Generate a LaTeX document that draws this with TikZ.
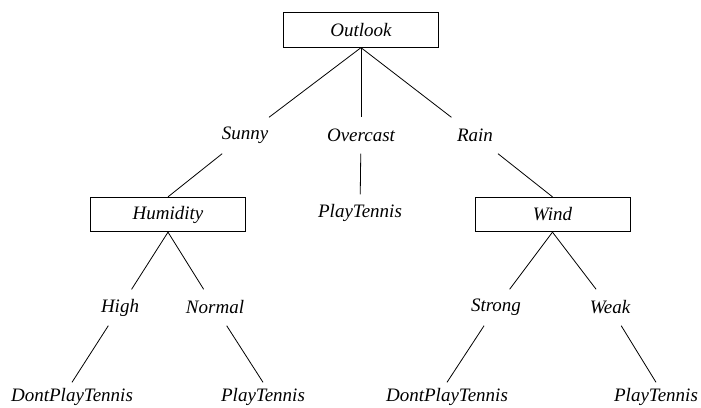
\documentclass[tikz,border=0pt]{standalone}
\usepackage{fontspec}
\setmainfont{Liberation Serif}
\tikzset{
  attrbox/.style={draw, line width=0.8pt, minimum width=155pt, minimum height=34.5pt, inner sep=0pt},
  branch/.style={minimum height=36pt, inner xsep=12pt, inner ysep=0pt},
  leaf/.style={minimum height=28pt, inner sep=0pt},
  edge/.style={line width=0.8pt}
}
\begin{document}
\begin{tikzpicture}[x=1pt, y=-1pt, font=\fontsize{19}{21}\selectfont\itshape]
    \useasboundingbox (0,0) rectangle (701,407);

    % Attribute boxes
    \node[attrbox] (outlook) at (361,30) {Outlook};
    \node[attrbox] (humidity) at (168,214.5) {Humidity};
    \node[attrbox] (wind) at (552.5,214.5) {Wind};

    % Values
    \node[branch] (sunny) at (245,135.5) {Sunny};
    \node[branch] (overcast) at (361,135.5) {Overcast};
    \node[branch] (rain) at (475,135.5) {Rain};
    \node[branch] (high) at (120,307.5) {High};
    \node[branch] (normal) at (215,307.5) {Normal};
    \node[branch] (strong) at (496,307.5) {Strong};
    \node[branch] (weak) at (610,307.5) {Weak};

    % Leaves
    \node[branch] (playA) at (360,212.5) {PlayTennis};
    \node[leaf] (dontB) at (72,396.5) {DontPlayTennis};
    \node[leaf] (playB) at (263,396.5) {PlayTennis};
    \node[leaf] (dontC) at (447,396.5) {DontPlayTennis};
    \node[leaf] (playC) at (656,396.5) {PlayTennis};

    % Edges
    \draw[edge] (outlook.south) -- (sunny);
    \draw[edge] (outlook.south) -- (overcast);
    \draw[edge] (outlook.south) -- (rain);
    \draw[edge] (sunny) -- (humidity.north);
    \draw[edge] (overcast) -- (playA);
    \draw[edge] (rain) -- (wind.north);
    \draw[edge] (humidity.south) -- (high);
    \draw[edge] (humidity.south) -- (normal);
    \draw[edge] (wind.south) -- (strong);
    \draw[edge] (wind.south) -- (weak);
    \draw[edge] (high) -- (dontB.north);
    \draw[edge] (normal) -- (playB.north);
    \draw[edge] (strong) -- (dontC.north);
    \draw[edge] (weak) -- (playC.north);
\end{tikzpicture}
\end{document}
